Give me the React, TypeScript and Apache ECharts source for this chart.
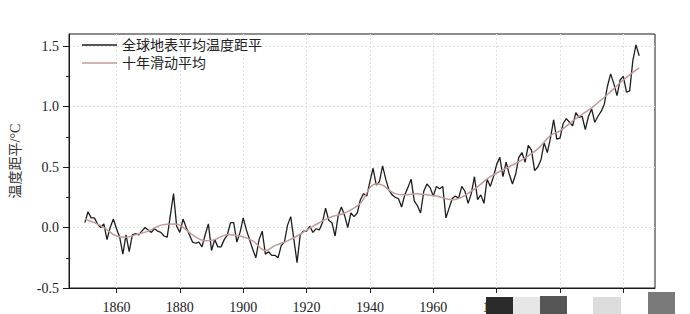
import React, { useEffect, useRef } from "react";
import * as echarts from "echarts";

// Annual global mean surface temperature anomaly, 1850–2025 (°C)
const startYear = 1850;
const anomaly: number[] = [
  0.04, 0.13, 0.08, 0.08, 0.03, 0.0, 0.03, -0.1, 0.0, 0.07,
  -0.01, -0.08, -0.22, -0.06, -0.2, -0.06, -0.05, -0.06, -0.03, 0.0,
  -0.02, -0.04, -0.01, -0.03, -0.04, -0.07, -0.08, 0.1, 0.28, 0.01,
  -0.04, 0.07, 0.0, -0.06, -0.12, -0.13, -0.12, -0.16, -0.06, 0.03,
  -0.19, -0.1, -0.16, -0.16, -0.1, -0.06, 0.04, 0.04, -0.12, -0.04,
  0.08, -0.02, -0.1, -0.18, -0.25, -0.1, -0.03, -0.22, -0.2, -0.23,
  -0.23, -0.25, -0.15, -0.12, 0.02, 0.09, -0.1, -0.29, -0.06, -0.03,
  -0.03, 0.01, -0.04, -0.01, -0.02, 0.04, 0.16, 0.06, 0.04, -0.07,
  0.1, 0.17, 0.1, 0.0, 0.12, 0.09, 0.12, 0.23, 0.28, 0.26,
  0.38, 0.49, 0.35, 0.38, 0.51, 0.4, 0.31, 0.27, 0.25, 0.24,
  0.17, 0.27, 0.33, 0.4, 0.22, 0.18, 0.12, 0.3, 0.36, 0.33,
  0.26, 0.34, 0.32, 0.34, 0.08, 0.16, 0.24, 0.26, 0.24, 0.34,
  0.3, 0.2, 0.28, 0.42, 0.23, 0.27, 0.2, 0.4, 0.34, 0.42,
  0.52, 0.58, 0.42, 0.54, 0.44, 0.36, 0.44, 0.58, 0.62, 0.54,
  0.68, 0.64, 0.47, 0.5, 0.56, 0.7, 0.62, 0.74, 0.89, 0.73,
  0.74, 0.86, 0.9, 0.87, 0.84, 0.95, 0.91, 0.92, 0.81, 0.92,
  0.98, 0.87, 0.92, 0.96, 1.02, 1.17, 1.27, 1.19, 1.09, 1.22,
  1.25, 1.12, 1.13, 1.38, 1.51, 1.42,
];

// Ten-year running mean at selected years
const maYears: number[] = [
  1850, 1853, 1856, 1860, 1863, 1866, 1870, 1874, 1878, 1880, 1884, 1888,
  1891, 1895, 1899, 1903, 1907, 1910, 1914, 1917, 1922, 1927, 1932, 1937,
  1940, 1942, 1944, 1946, 1948, 1951, 1955, 1958, 1961, 1966, 1972, 1978,
  1983, 1988, 1993, 1997, 2000, 2005, 2010, 2015, 2020, 2025,
];
const maValues: number[] = [
  0.07, 0.04, 0.0, -0.07, -0.08, -0.06, -0.03, 0.02, 0.03, 0.02, -0.06, -0.11,
  -0.1, -0.06, -0.07, -0.11, -0.19, -0.15, -0.11, -0.07, 0.01, 0.08, 0.12, 0.2,
  0.33, 0.36, 0.35, 0.31, 0.28, 0.27, 0.28, 0.27, 0.26, 0.23, 0.3, 0.42,
  0.49, 0.56, 0.65, 0.76, 0.8, 0.9, 0.99, 1.1, 1.22, 1.32,
];

const xTickLabels: number[] = [1860, 1880, 1900, 1920, 1940, 1960, 1980, 2000, 2020];
const yTickLabels: number[] = [-0.5, 0, 0.5, 1.0, 1.5];
const yMinorTicks: number[] = [-0.25, 0.25, 0.75, 1.25];

const seriesNames = ["全球地表平均温度距平", "十年滑动平均"];
const yAxisName = "温度距平/°C";

const SERIF = "'Liberation Serif', 'Noto Sans CJK SC', serif";

export default function App() {
  const ref = useRef<HTMLDivElement>(null);

  useEffect(() => {
    if (!ref.current) return;
    const chart = echarts.init(ref.current, undefined, { renderer: "svg" });

    const annualData = anomaly.map((v, i) => [startYear + i, v]);
    const maData = maYears.map((y, i) => [y, maValues[i]]);

    const gridLine = {
      show: true,
      lineStyle: { color: "#e0e0e0", type: [2, 2] as any, width: 1 },
    };

    chart.setOption({
      animation: false,
      backgroundColor: "#ffffff",
      grid: {
        left: 69,
        right: 35,
        top: 34,
        bottom: 21,
        show: true,
        borderColor: "#1a1a1a",
        borderWidth: 1,
        backgroundColor: "transparent",
      },
      legend: {
        orient: "vertical",
        left: 82,
        top: 38,
        padding: 0,
        icon: "rect",
        itemWidth: 35,
        itemHeight: 1.5,
        itemGap: 4,
        data: seriesNames,
        textStyle: { fontSize: 14, color: "#222", fontFamily: SERIF, lineHeight: 14 },
      },
      xAxis: {
        type: "value",
        min: 1845,
        max: 2030,
        axisLine: { show: true, onZero: false, lineStyle: { color: "#1a1a1a", width: 1 } },
        axisTick: {
          show: true,
          length: 5,
          inside: false,
          customValues: xTickLabels,
          lineStyle: { color: "#1a1a1a" },
        },
        axisLabel: {
          customValues: xTickLabels,
          margin: 12,
          fontSize: 14,
          color: "#222",
          fontFamily: SERIF,
          formatter: (v: number) => String(v),
        },
        splitLine: gridLine,
      },
      yAxis: [
        {
          type: "value",
          min: -0.5,
          max: 1.6,
          name: yAxisName,
          nameLocation: "middle",
          nameGap: 47,
          nameTextStyle: { fontSize: 14, color: "#333", fontFamily: SERIF },
          axisLine: { show: true, lineStyle: { color: "#1a1a1a", width: 1 } },
          axisTick: {
            show: true,
            length: 6,
            customValues: yTickLabels,
            lineStyle: { color: "#1a1a1a" },
          },
          axisLabel: {
            customValues: yTickLabels,
            margin: 10,
            fontSize: 14,
            color: "#222",
            fontFamily: SERIF,
            formatter: (v: number) => v.toFixed(1),
          },
          splitLine: gridLine,
        },
        {
          type: "value",
          min: -0.5,
          max: 1.6,
          position: "left",
          axisLine: { show: false },
          axisTick: {
            show: true,
            length: 3,
            customValues: yMinorTicks,
            lineStyle: { color: "#1a1a1a" },
          },
          axisLabel: { show: false, customValues: yMinorTicks },
          splitLine: { show: false },
        },
      ],
      series: [
        {
          name: seriesNames[0],
          type: "line",
          data: annualData,
          symbol: "none",
          z: 3,
          lineStyle: { color: "#1e1e1e", width: 1.3 },
          itemStyle: { color: "#1e1e1e" },
        },
        {
          name: seriesNames[1],
          type: "line",
          data: maData,
          smooth: 0.4,
          symbol: "none",
          z: 4,
          lineStyle: { color: "#c49a9a", width: 1.5 },
          itemStyle: { color: "#c49a9a" },
        },
      ],
      graphic: [
        { type: "rect", z: 100, shape: { x: 486, y: 297, width: 27, height: 17 }, style: { fill: "#2b2b2b" } },
        { type: "rect", z: 100, shape: { x: 513, y: 297, width: 27, height: 17 }, style: { fill: "#e6e6e6" } },
        { type: "rect", z: 100, shape: { x: 540, y: 296, width: 27, height: 18 }, style: { fill: "#555555" } },
        { type: "rect", z: 100, shape: { x: 567, y: 297, width: 26, height: 17 }, style: { fill: "#ffffff" } },
        { type: "rect", z: 100, shape: { x: 593, y: 297, width: 28, height: 17 }, style: { fill: "#dcdcdc" } },
        { type: "rect", z: 100, shape: { x: 621, y: 297, width: 27, height: 17 }, style: { fill: "#ffffff" } },
        { type: "rect", z: 100, shape: { x: 648, y: 292, width: 27, height: 22 }, style: { fill: "#7a7a7a" } },
      ],
    });

    return () => chart.dispose();
  }, []);

  return (
    <div
      ref={ref}
      style={{ position: "fixed", left: 0, top: 0, width: 690, height: 314 }}
    />
  );
}
